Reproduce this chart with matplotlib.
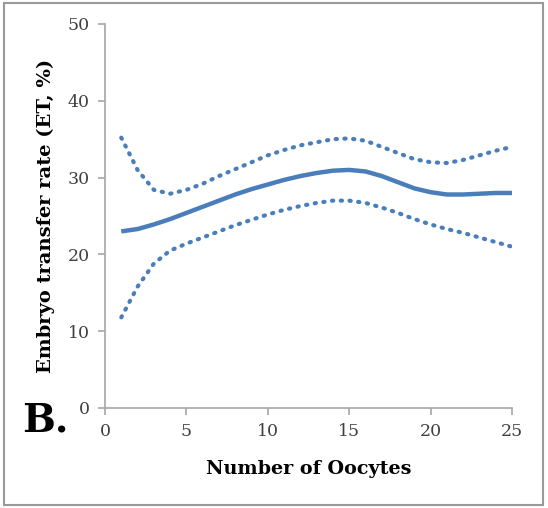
import matplotlib
matplotlib.use("Agg")
import matplotlib.pyplot as plt
from matplotlib.patches import Rectangle

oocytes = list(range(1, 26))
et_mean = [23.0, 23.3, 23.9, 24.6, 25.4, 26.2, 27.0, 27.8, 28.5, 29.1, 29.7, 30.2, 30.6,
           30.9, 31.0, 30.8, 30.2, 29.4, 28.6, 28.1, 27.8, 27.8, 27.9, 28.0, 28.0]
et_upper = [35.2, 31.0, 28.4, 27.9, 28.4, 29.2, 30.2, 31.1, 32.0, 32.9, 33.6, 34.2, 34.6,
            35.0, 35.1, 34.8, 34.0, 33.2, 32.4, 32.0, 31.9, 32.3, 32.9, 33.5, 34.0]
et_lower = [11.8, 15.8, 18.8, 20.5, 21.4, 22.2, 23.0, 23.8, 24.5, 25.2, 25.8, 26.3, 26.7,
            27.0, 27.0, 26.7, 26.1, 25.4, 24.6, 23.9, 23.3, 22.8, 22.2, 21.6, 21.0]
xticks = [0, 5, 10, 15, 20, 25]
yticks = [0, 10, 20, 30, 40, 50]

plt.rcParams['font.family'] = ['DejaVu Serif']
blue = '#4A7EBB'
grey = '#A6A6A6'

fig = plt.figure(figsize=(5.48, 5.08), dpi=100)
ax = fig.add_axes([105/548, 1-408/508, (512-105)/548, (408-24)/508])

ax.plot(oocytes, et_mean, color=blue, lw=3.2, solid_capstyle='butt')
ax.plot(oocytes, et_upper, color=blue, lw=3.0, linestyle=(0, (0.3, 1.8)), dash_capstyle='round')
ax.plot(oocytes, et_lower, color=blue, lw=3.0, linestyle=(0, (0.3, 1.8)), dash_capstyle='round')

ax.set_xlim(0, 25)
ax.set_ylim(0, 50)
ax.set_xticks(xticks)
ax.set_yticks(yticks)
for s in ['top', 'right']:
    ax.spines[s].set_visible(False)
for s in ['left', 'bottom']:
    ax.spines[s].set_color(grey)
    ax.spines[s].set_linewidth(1.2)
ax.tick_params(colors=grey, length=5, width=1.2, labelcolor='#404040', labelsize=12.5, pad=6)

ax.set_xlabel('Number of Oocytes', fontsize=13.8, fontweight='bold', labelpad=14)
ax.set_ylabel('Embryo transfer rate (ET, %)', fontsize=14, fontweight='bold', labelpad=9)

fig.text(22/548, 1-432/508, 'B.', fontsize=28, fontweight='bold', ha='left', va='baseline')

fig.patches.append(Rectangle((4/548, 3/508), 539/548, 502/508, transform=fig.transFigure,
                             fill=False, edgecolor='#9A9A9A', lw=1.5))

fig.savefig('out.png', dpi=100)
